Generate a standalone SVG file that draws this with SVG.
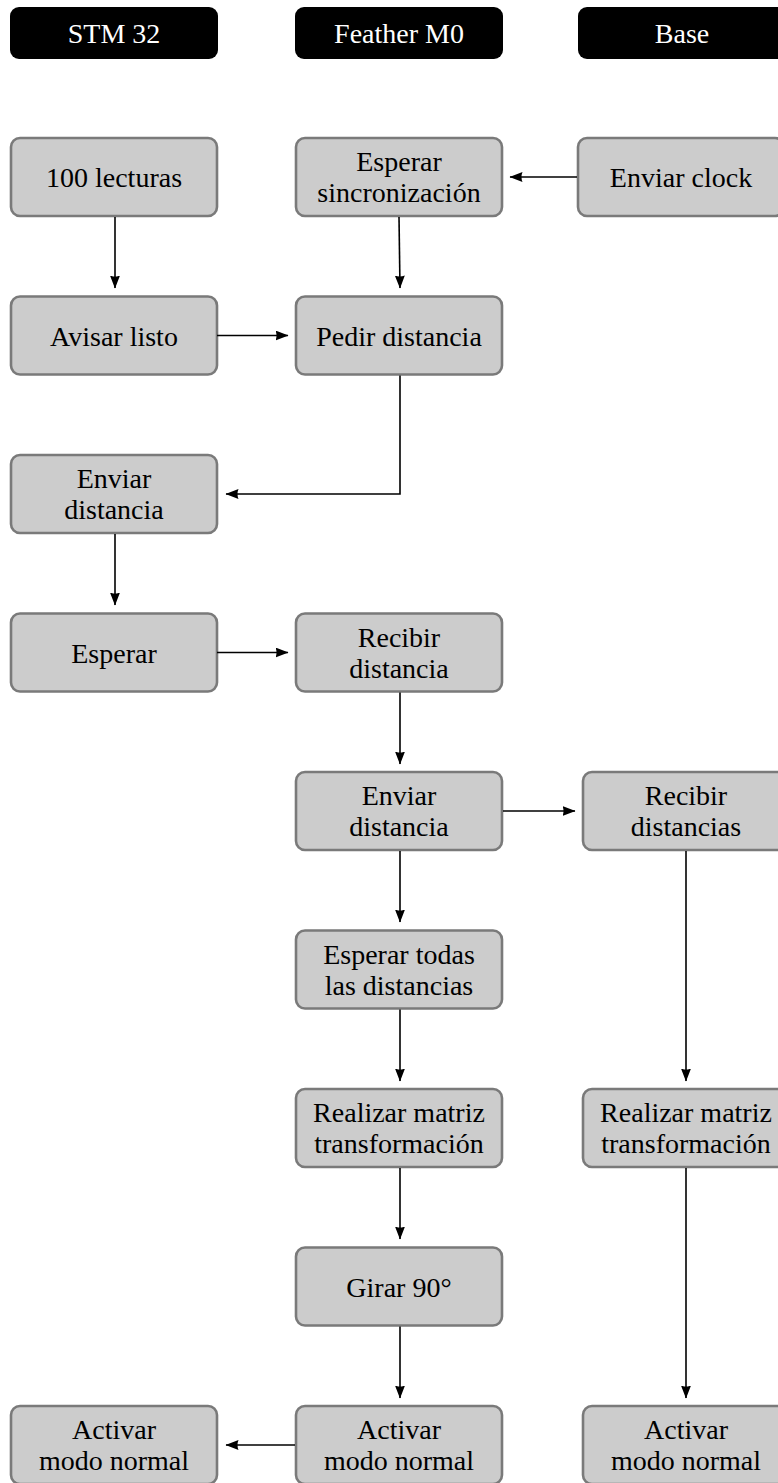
<svg xmlns="http://www.w3.org/2000/svg" width="778" height="1483" viewBox="0 0 778 1483">
  <style>
    .hdr rect { fill: #000; }
    .node rect { fill: #cccccc; stroke: #7a7a7a; stroke-width: 2.6; }
    .conn path { fill: none; stroke: #000; stroke-width: 1.6; marker-end: url(#arr); }
  </style>
  <defs>
    <!-- LaTeX-style arrowhead -->
    <marker id="arr" markerUnits="userSpaceOnUse" markerWidth="14" markerHeight="11" refX="12.5" refY="5" orient="auto">
      <path d="M13,5 L0,0 Q2,5 0,10 Z" fill="#000"/>
    </marker>
  </defs>

  <rect width="778" height="1483" fill="#fff"/>

  <g font-family="Liberation Serif, Tinos, Times New Roman, DejaVu Serif, Noto Serif, serif" font-size="28" text-anchor="middle">
  <!-- column headers -->
  <g id="hdr-stm32" class="hdr"><rect x="10" y="7" width="208" height="52" rx="9"/><text x="114" y="43" fill="#fff">STM 32</text></g>
  <g id="hdr-feather" class="hdr"><rect x="295" y="7" width="208" height="52" rx="9"/><text x="399" y="43" fill="#fff">Feather M0</text></g>
  <g id="hdr-base" class="hdr"><rect x="578" y="7" width="208" height="52" rx="9"/><text x="682" y="43" fill="#fff">Base</text></g>

  <!-- STM 32 column -->
  <g id="n-lecturas" class="node"><rect x="11" y="138" width="206" height="78" rx="9"/><text x="114" y="187">100 lecturas</text></g>
  <g id="n-avisar" class="node"><rect x="11" y="296.5" width="206" height="78" rx="9"/><text x="114" y="345.5">Avisar listo</text></g>
  <g id="n-enviar-dist-stm" class="node"><rect x="11" y="455" width="206" height="78" rx="9"/><text x="114" y="488">Enviar</text><text x="114" y="519">distancia</text></g>
  <g id="n-esperar" class="node"><rect x="11" y="613.5" width="206" height="78" rx="9"/><text x="114" y="662.5">Esperar</text></g>
  <g id="n-activar-stm" class="node"><rect x="11" y="1406" width="206" height="78" rx="9"/><text x="114" y="1439">Activar</text><text x="114" y="1470">modo normal</text></g>

  <!-- Feather M0 column -->
  <g id="n-sync" class="node"><rect x="296" y="138" width="206" height="78" rx="9"/><text x="399" y="171">Esperar</text><text x="399" y="202">sincronización</text></g>
  <g id="n-pedir" class="node"><rect x="296" y="296.5" width="206" height="78" rx="9"/><text x="399" y="345.5">Pedir distancia</text></g>
  <g id="n-recibir-dist" class="node"><rect x="296" y="613.5" width="206" height="78" rx="9"/><text x="399" y="646.5">Recibir</text><text x="399" y="677.5">distancia</text></g>
  <g id="n-enviar-dist-fm0" class="node"><rect x="296" y="772" width="206" height="78" rx="9"/><text x="399" y="805">Enviar</text><text x="399" y="836">distancia</text></g>
  <g id="n-esperar-todas" class="node"><rect x="296" y="930.5" width="206" height="78" rx="9"/><text x="399" y="963.5">Esperar todas</text><text x="399" y="994.5">las distancias</text></g>
  <g id="n-matriz-fm0" class="node"><rect x="296" y="1089" width="206" height="78" rx="9"/><text x="399" y="1122">Realizar matriz</text><text x="399" y="1153">transformación</text></g>
  <g id="n-girar" class="node"><rect x="296" y="1247.5" width="206" height="78" rx="9"/><text x="399" y="1296.5">Girar 90°</text></g>
  <g id="n-activar-fm0" class="node"><rect x="296" y="1406" width="206" height="78" rx="9"/><text x="399" y="1439">Activar</text><text x="399" y="1470">modo normal</text></g>

  <!-- Base column -->
  <g id="n-clock" class="node"><rect x="578" y="138" width="206" height="78" rx="9"/><text x="681" y="187">Enviar clock</text></g>
  <g id="n-recibir-dists" class="node"><rect x="583" y="772" width="206" height="78" rx="9"/><text x="686" y="805">Recibir</text><text x="686" y="836">distancias</text></g>
  <g id="n-matriz-base" class="node"><rect x="583" y="1089" width="206" height="78" rx="9"/><text x="686" y="1122">Realizar matriz</text><text x="686" y="1153">transformación</text></g>
  <g id="n-activar-base" class="node"><rect x="583" y="1406" width="206" height="78" rx="9"/><text x="686" y="1439">Activar</text><text x="686" y="1470">modo normal</text></g>
  </g>

  <!-- connectors -->
  <g id="connectors" class="conn">
    <path d="M115,217 V288"/>
    <path d="M217,335.5 H288"/>
    <path d="M577,177 H510"/>
    <path d="M399,217 L400,288"/>
    <path d="M400,375.5 V494 H226"/>
    <path d="M115,534 V605"/>
    <path d="M217,652.5 H288"/>
    <path d="M400,692.5 V764"/>
    <path d="M503,811 H575"/>
    <path d="M400,851 V922"/>
    <path d="M400,1009.5 V1081"/>
    <path d="M400,1168 V1239"/>
    <path d="M400,1326.5 V1398"/>
    <path d="M295,1445 H226"/>
    <path d="M686,851 V1081"/>
    <path d="M686,1168 V1398"/>
  </g>
</svg>
